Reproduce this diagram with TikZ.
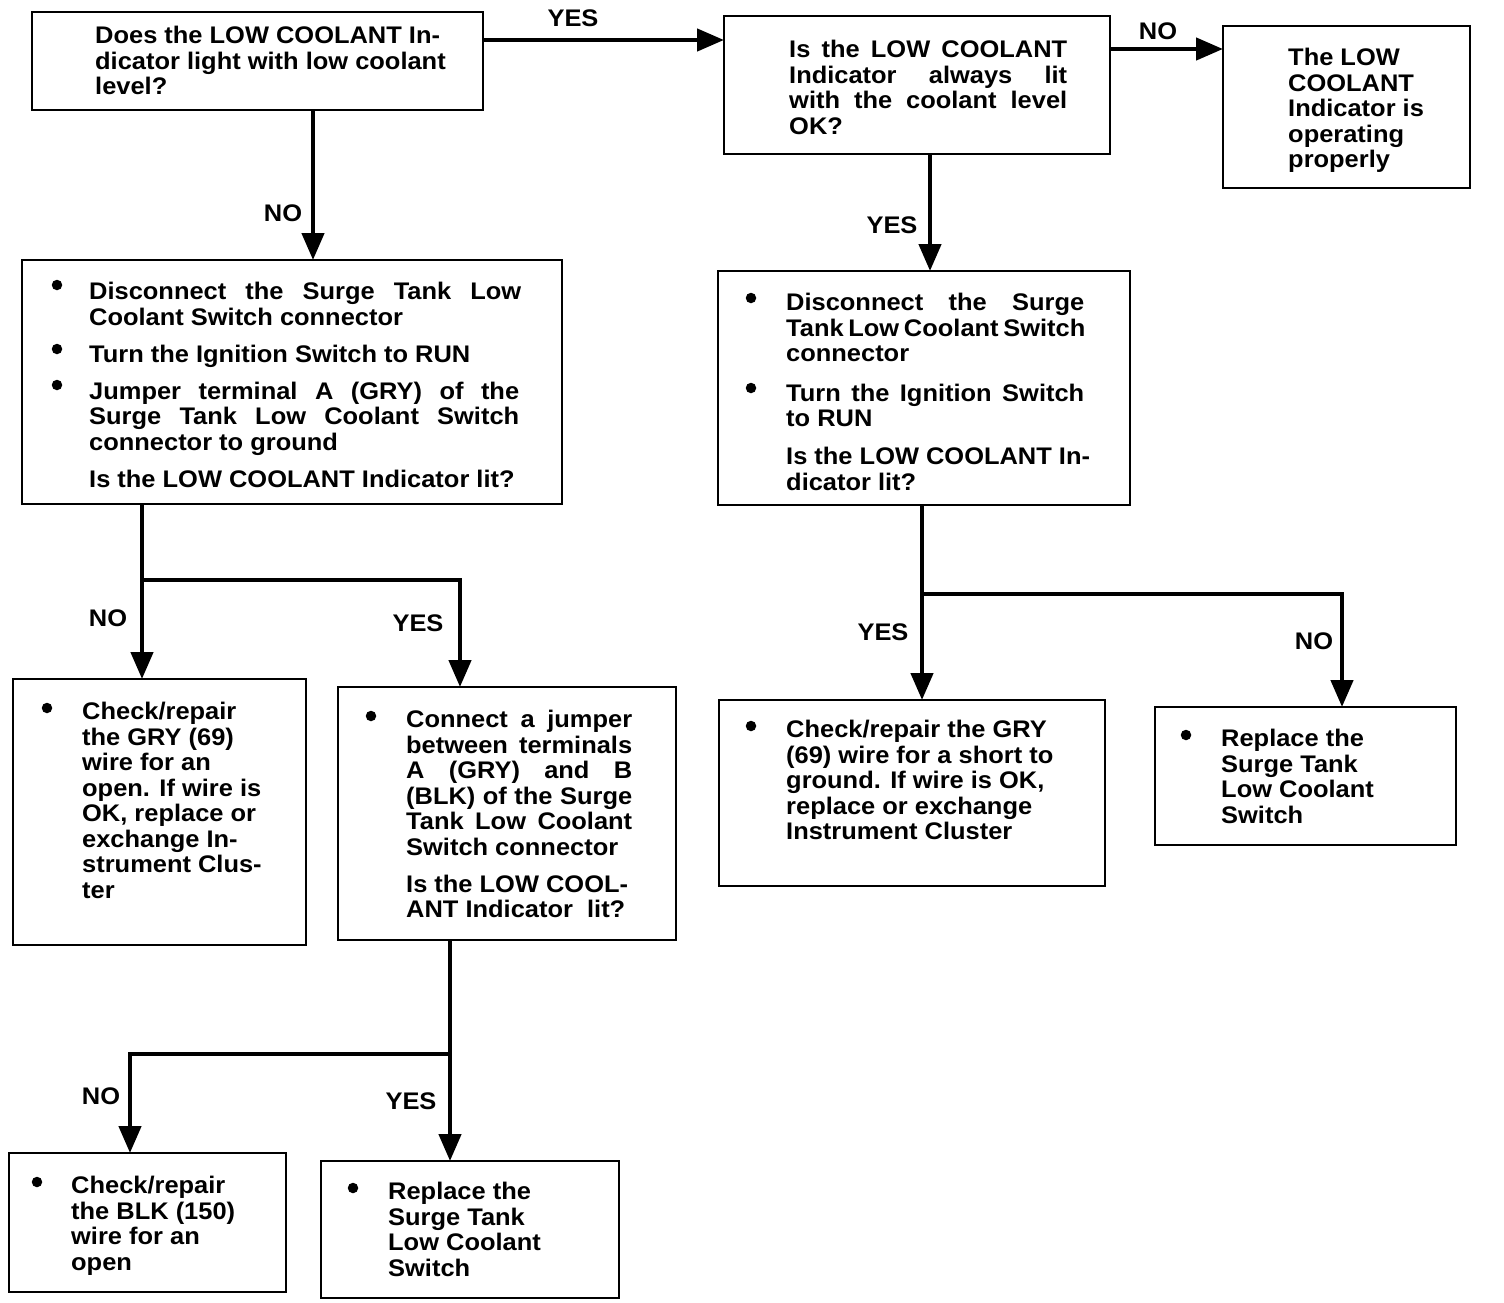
\documentclass[tikz,border=0pt]{standalone}
\usepackage{fontspec}
\setmainfont{Liberation Sans}[FakeStretch=1.06]
\usetikzlibrary{arrows.meta}
\newcommand\jl[2]{\makebox[#1pt][s]{#2}}
\begin{document}
\begin{tikzpicture}[x=1pt,y=-1pt,
 box/.style={draw, line width=2.6pt, inner sep=0, outer sep=0, anchor=north west},
 txt/.style={font=\fontsize{24}{25.5}\selectfont\bfseries, align=left, inner sep=0, anchor=north west},
 lab/.style={font=\fontsize{24}{25.5}\selectfont\bfseries, inner sep=0},
 dot/.style={circle, fill, inner sep=0, minimum size=10.5pt},
 ln/.style={line width=4.5pt},
 arr/.style={line width=4.5pt, -{Triangle[width=22pt,length=27pt]}}]
\fill[white] (0,0) rectangle (1504,1302);
\useasboundingbox (0,0) rectangle (1504,1302);

% boxes
\node[box, minimum width=451pt, minimum height=98pt] (b1) at (32,12) {};
\node[box, minimum width=386pt, minimum height=138pt] (b2) at (724,16) {};
\node[box, minimum width=247pt, minimum height=162pt] (b3) at (1223,26) {};
\node[box, minimum width=540pt, minimum height=244pt] (b4) at (22,260) {};
\node[box, minimum width=412pt, minimum height=234pt] (b5) at (718,271) {};
\node[box, minimum width=293pt, minimum height=266pt] (b6) at (13,679) {};
\node[box, minimum width=338pt, minimum height=253pt] (b7) at (338,687) {};
\node[box, minimum width=386pt, minimum height=186pt] (b8) at (719,700) {};
\node[box, minimum width=301pt, minimum height=138pt] (b9) at (1155,707) {};
\node[box, minimum width=277pt, minimum height=139pt] (b10) at (9,1153) {};
\node[box, minimum width=298pt, minimum height=137pt] (b11) at (321,1161) {};

% texts
\node[txt] (t1) at (95,26) {Does the LOW COOLANT In-\\dicator light with low coolant\\level?};
\node[txt] (t2) at (789,40) {\jl{278}{Is the LOW COOLANT}\\\jl{278}{Indicator always lit}\\\jl{278}{with the coolant level}\\OK?};
\node[txt] (t3) at (1288,48) {The LOW\\COOLANT\\Indicator is\\operating\\properly};
\node[txt] (t4) at (89,282) {\jl{432}{Disconnect the Surge Tank Low}\\Coolant Switch connector\\[11.5pt]Turn the Ignition Switch to RUN\\[11.5pt]\jl{430}{Jumper terminal A (GRY) of the}\\\jl{430}{Surge Tank Low Coolant Switch}\\connector to ground\\[12pt]Is the LOW COOLANT Indicator lit?};
\node[txt] (t5) at (786,293) {\jl{298}{Disconnect the Surge}\\\jl{298}{Tank Low Coolant Switch}\\connector\\[14pt]\jl{298}{Turn the Ignition Switch}\\to RUN\\[12.5pt]Is the LOW COOLANT In-\\dicator lit?};
\node[txt] (t6) at (82,702) {Check/repair\\the GRY (69)\\wire for an\\open. If wire is\\OK, replace or\\exchange In-\\strument Clus-\\ter};
\node[txt] (t7) at (406,710) {\jl{226}{Connect a jumper}\\\jl{226}{between terminals}\\\jl{226}{A (GRY) and B}\\\jl{226}{(BLK) of the Surge}\\\jl{226}{Tank Low Coolant}\\Switch connector\\[11.5pt]Is the LOW COOL-\\ANT Indicator\ \ lit?};
\node[txt] (t8) at (786,720) {Check/repair the GRY\\(69) wire for a short to\\ground. If wire is OK,\\replace or exchange\\Instrument Cluster};
\node[txt] (t9) at (1221,729) {Replace the\\Surge Tank\\Low Coolant\\Switch};
\node[txt] (t10) at (71,1176) {Check/repair\\the BLK (150)\\wire for an\\open};
\node[txt] (t11) at (388,1182) {Replace the\\Surge Tank\\Low Coolant\\Switch};

% bullets
\node[dot] (d4a) at (57,285) {};
\node[dot] (d4b) at (57,349) {};
\node[dot] (d4c) at (57,385) {};
\node[dot] (d5a) at (751,298) {};
\node[dot] (d5b) at (751,388) {};
\node[dot] (d6) at (47,708) {};
\node[dot] (d7) at (371,716) {};
\node[dot] (d8) at (751,726) {};
\node[dot] (d9) at (1186,735) {};
\node[dot] (d10) at (37,1182) {};
\node[dot] (d11) at (353,1188) {};

% connectors
\draw[arr] (b1.east |- 0,40) -- (b2.west |- 0,40);
\draw[arr] (b2.east |- 0,49) -- (b3.west |- 0,49);
\draw[arr] (b1.south -| 313,0) -- (b4.north -| 313,0);
\draw[arr] (b2.south -| 930,0) -- (b5.north -| 930,0);

\coordinate (j1) at (142,580);
\draw[ln] (b4.south -| 142,0) -- (j1);
\draw[arr] (j1) -- (b6.north -| 142,0);
\draw[arr] (j1) -| (b7.north -| 460,0);

\coordinate (j2) at (922,594);
\draw[ln] (b5.south -| 922,0) -- (j2);
\draw[arr] (j2) -- (b8.north -| 922,0);
\draw[arr] (j2) -| (b9.north -| 1342,0);

\coordinate (j3) at (450,1054);
\draw[ln] (b7.south -| 450,0) -- (j3);
\draw[arr] (j3) -- (b11.north -| 450,0);
\draw[arr] (j3) -| (b10.north -| 130,0);

% labels
\node[lab] (l1) at (573,18) {YES};
\node[lab] (l2) at (1158,31) {NO};
\node[lab] (l3) at (283,213) {NO};
\node[lab] (l4) at (892,225) {YES};
\node[lab] (l5) at (108,618) {NO};
\node[lab] (l6) at (418,623) {YES};
\node[lab] (l7) at (883,632) {YES};
\node[lab] (l8) at (1314,641) {NO};
\node[lab] (l9) at (101,1096) {NO};
\node[lab] (l10) at (411,1101) {YES};
\end{tikzpicture}
\end{document}
